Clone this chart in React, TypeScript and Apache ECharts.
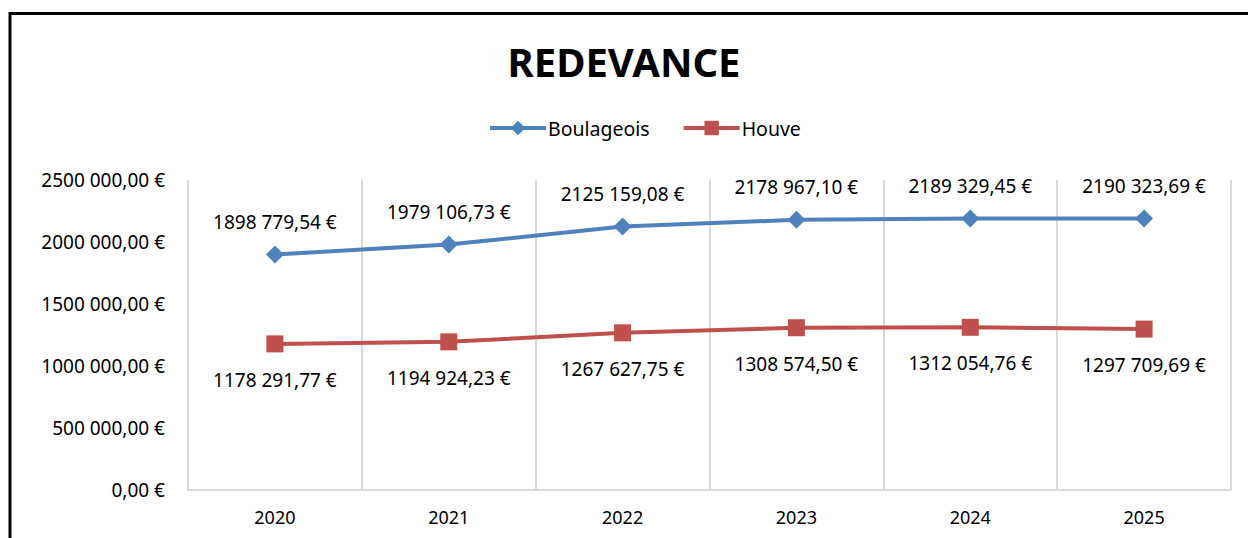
import React, { useEffect, useRef } from "react";
import * as echarts from "echarts";

const years = ["2020", "2021", "2022", "2023", "2024", "2025"];
const boulageois = [1898779.54, 1979106.73, 2125159.08, 2178967.1, 2189329.45, 2190323.69];
const houve = [1178291.77, 1194924.23, 1267627.75, 1308574.5, 1312054.76, 1297709.69];
const seriesNames = ["Boulageois", "Houve"];
const titleText = "REDEVANCE";

const FONT = "'Noto Sans', 'Open Sans', sans-serif";

function fmtEuro(v: number): string {
  const cents = Math.round(v * 100);
  const whole = Math.floor(cents / 100);
  const dec = String(cents % 100).padStart(2, "0");
  let s: string;
  if (whole >= 1000) {
    s = Math.floor(whole / 1000) + " " + String(whole % 1000).padStart(3, "0");
  } else {
    s = String(whole);
  }
  return s + "," + dec + " €";
}

export default function App() {
  const ref = useRef<HTMLDivElement>(null);
  useEffect(() => {
    if (!ref.current) return;
    const chart = echarts.init(ref.current, null, { renderer: "svg" });
    chart.setOption({
      animation: false,
      backgroundColor: "#ffffff",
      textStyle: { fontFamily: FONT },
      title: {
        text: titleText,
        left: "center",
        top: 36,
        textStyle: { fontFamily: FONT, fontSize: 40, fontWeight: "bold", color: "#000" },
      },
      legend: {
        top: 113,
        left: 483,
        itemWidth: 56,
        itemHeight: 18,
        itemGap: 32,
        lineStyle: { width: 4 },
        textStyle: { fontFamily: FONT, fontSize: 19.5, color: "#000", padding: [0, 0, 0, -3] },
        data: seriesNames,
      },
      grid: { left: 188, right: 17, top: 180, bottom: 48, containLabel: false },
      xAxis: {
        type: "category",
        data: years,
        boundaryGap: true,
        axisTick: { show: false },
        axisLine: { show: true, lineStyle: { color: "#d9d9d9", width: 2 } },
        splitLine: { show: true, lineStyle: { color: "#d9d9d9", width: 2 } },
        axisLabel: { fontFamily: FONT, fontSize: 18, color: "#000", margin: 18 },
      },
      yAxis: {
        type: "value",
        min: 0,
        max: 2500000,
        interval: 500000,
        axisLine: { show: false },
        axisTick: { show: false },
        splitLine: { show: false },
        axisLabel: {
          fontFamily: FONT,
          fontSize: 19,
          color: "#000",
          margin: 23,
          formatter: (v: number) => fmtEuro(v),
        },
      },
      series: [
        {
          name: seriesNames[0],
          type: "line",
          data: boulageois,
          symbol: "diamond",
          symbolSize: 18,
          lineStyle: { color: "#4F81BD", width: 4 },
          itemStyle: { color: "#4F81BD" },
          label: {
            show: true,
            position: "top",
            distance: 14,
            fontFamily: FONT,
            fontSize: 19,
            color: "#000",
            formatter: (p: any) => fmtEuro(p.value),
          },
        },
        {
          name: seriesNames[1],
          type: "line",
          data: houve,
          symbol: "rect",
          symbolSize: 17,
          lineStyle: { color: "#C0504D", width: 4 },
          itemStyle: { color: "#C0504D" },
          label: {
            show: true,
            position: "bottom",
            distance: 18,
            fontFamily: FONT,
            fontSize: 19,
            color: "#000",
            formatter: (p: any) => fmtEuro(p.value),
          },
        },
      ],
      graphic: [
        {
          type: "rect",
          shape: { x: 10, y: 13.5, width: 1300, height: 700 },
          style: { fill: "none", stroke: "#000", lineWidth: 3 },
          silent: true,
        },
      ],
    });
    return () => chart.dispose();
  }, []);
  return (
    <div
      ref={ref}
      style={{ position: "absolute", left: 0, top: 0, width: 1248, height: 538 }}
    />
  );
}
